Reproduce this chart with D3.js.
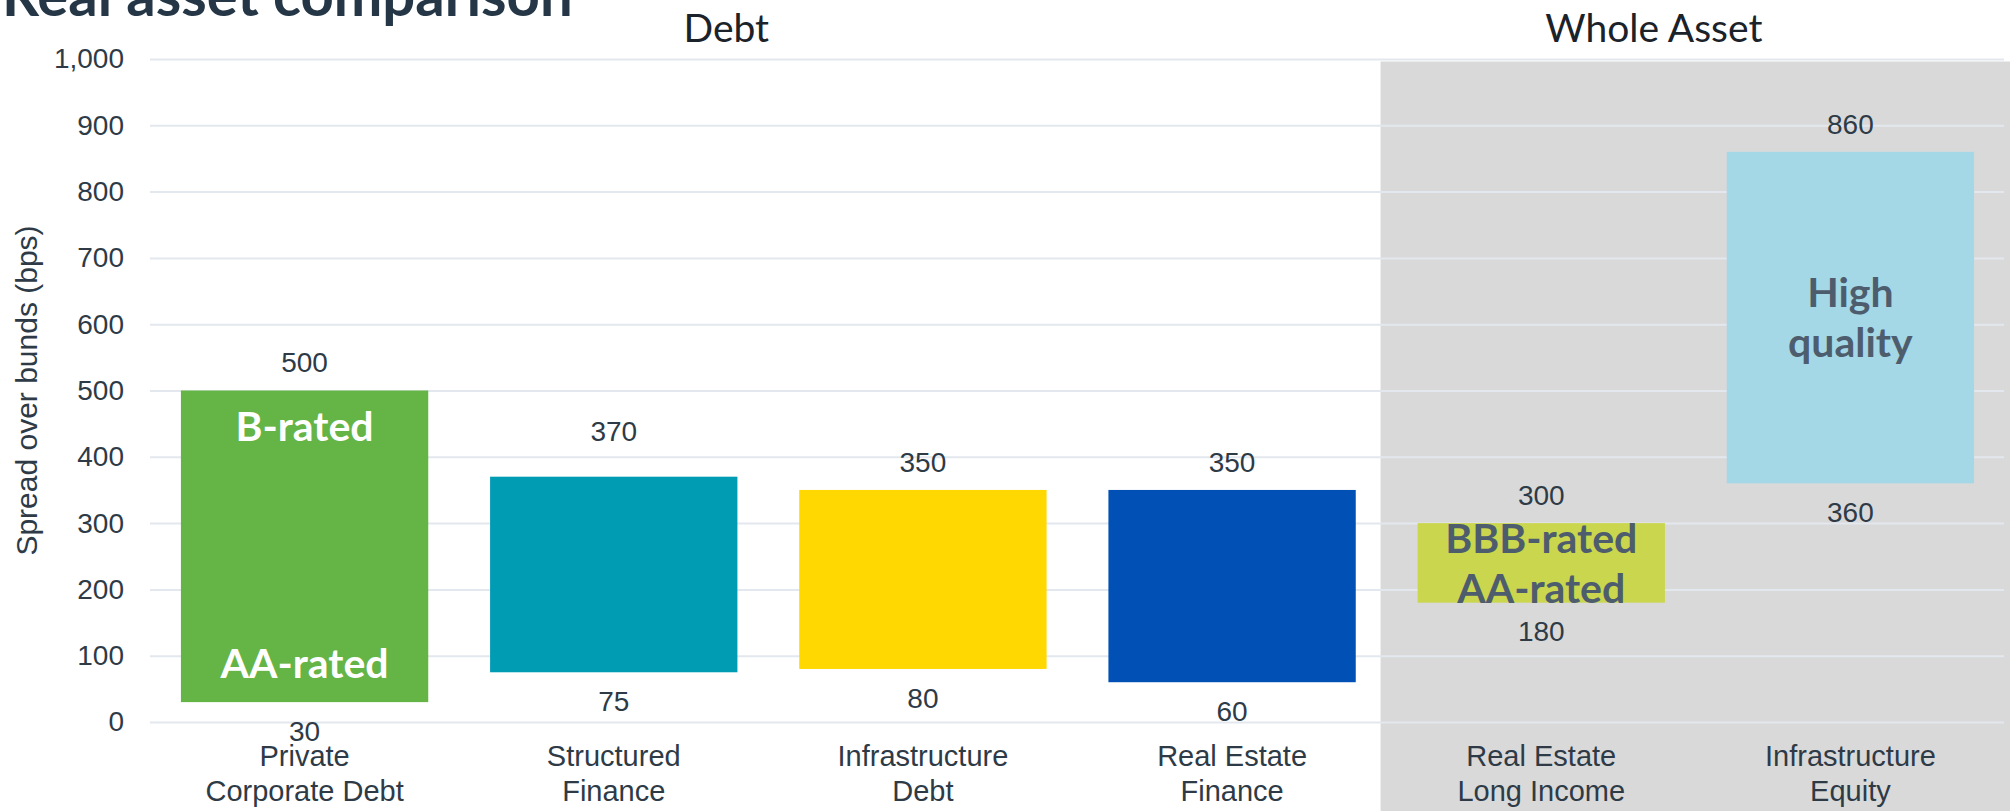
<!DOCTYPE html>
<html>
<head>
<meta charset="utf-8">
<script src="https://cdn.jsdelivr.net/npm/d3@7"></script>
<style>
  html, body { margin: 0; padding: 0; background: #ffffff; overflow: hidden; }
  svg { display: block; }
</style>
</head>
<body>
<svg id="chart" width="2010" height="811"></svg>
<script>
// ---- data ----
const categories = [
  "Private Corporate Debt", "Structured Finance", "Infrastructure Debt",
  "Real Estate Finance", "Real Estate Long Income", "Infrastructure Equity"
];
const categoryLines = [
  ["Private", "Corporate Debt"], ["Structured", "Finance"], ["Infrastructure", "Debt"],
  ["Real Estate", "Finance"], ["Real Estate", "Long Income"], ["Infrastructure", "Equity"]
];
const lowSpread  = [30, 75, 80, 60, 180, 360];
const highSpread = [500, 370, 350, 350, 300, 860];
const barColors  = ["#65b446", "#009cb4", "#fed800", "#0050b5", "#c9d64e", "#a4d8e6"];
const yTicks = [0, 100, 200, 300, 400, 500, 600, 700, 800, 900, 1000];
const groupNames = ["Debt", "Whole Asset"];
const groupMembers = [[0, 1, 2, 3], [4, 5]];
const noteCategories = [0, 0, 4, 5];
const noteLines = [["B-rated"], ["AA-rated"], ["BBB-rated", "AA-rated"], ["High", "quality"]];
const noteAnchors = ["top", "bottom", "middle", "middle"];

// ---- layout ----
const W = 2010, H = 811;
const plotLeft = 150, plotRight = 2005, plotTop = 59, plotBottom = 722;
const axisFont = "'Liberation Sans', Arial, sans-serif";
const headFont = "Lato, 'Noto Sans', sans-serif";
const textDark = "#2e3b47";

const svg = d3.select("#chart");

const x = d3.scaleBand()
  .domain(categories)
  .range([plotLeft, plotRight])
  .paddingInner(0.2)
  .paddingOuter(0.1);

const y = d3.scaleLinear().domain([0, 1000]).range([plotBottom, plotTop]);

// shaded panel behind the whole-asset categories
const panelLeft = x(categories[4]) - 37;
svg.append("rect")
  .attr("x", panelLeft)
  .attr("y", y(1000) + 2.5)
  .attr("width", W - panelLeft)
  .attr("height", H - y(1000))
  .attr("fill", "#d9d9d9");

// y axis with gridlines
const yAxis = d3.axisLeft(y)
  .tickValues(yTicks)
  .tickFormat(d3.format(","))
  .tickSizeInner(-(2004 - plotLeft))
  .tickSizeOuter(0)
  .tickPadding(26);

const gy = svg.append("g")
  .attr("transform", `translate(${plotLeft},0)`)
  .call(yAxis);
gy.select(".domain").remove();
gy.selectAll(".tick line").attr("stroke", "#e3e8ee").attr("stroke-width", 2);
gy.selectAll(".tick text")
  .attr("font-family", axisFont)
  .attr("font-size", 28)
  .attr("fill", textDark);

// y axis title
svg.append("text")
  .attr("transform", `translate(26,${(plotTop + plotBottom) / 2}) rotate(-90)`)
  .attr("text-anchor", "middle")
  .attr("dy", "0.35em")
  .attr("font-family", axisFont)
  .attr("font-size", 30)
  .attr("fill", textDark)
  .text("Spread over bunds (bps)");

// x axis (two-line category labels)
const xAxis = d3.axisBottom(x).tickSize(0).tickPadding(0);
const gx = svg.append("g")
  .attr("transform", `translate(0,${plotBottom})`)
  .call(xAxis);
gx.select(".domain").remove();
gx.selectAll(".tick text").each(function (d) {
  const t = d3.select(this);
  const lines = categoryLines[categories.indexOf(d)];
  t.text(null)
    .attr("y", 0)
    .attr("dy", null)
    .attr("font-family", axisFont)
    .attr("font-size", 29)
    .attr("fill", textDark);
  lines.forEach((ln, i) => {
    t.append("tspan").attr("x", 0).attr("y", 44 + i * 35).text(ln);
  });
});

// floating range bars
const rows = categories.map((c, i) => ({
  cat: c, lo: lowSpread[i], hi: highSpread[i], color: barColors[i]
}));

svg.append("g").selectAll("rect")
  .data(rows)
  .join("rect")
  .attr("x", d => x(d.cat))
  .attr("width", x.bandwidth())
  .attr("y", d => y(d.hi))
  .attr("height", d => y(d.lo) - y(d.hi))
  .attr("fill", d => d.color);

// value labels above and below each bar
const topLift = { "Structured Finance": 17 };
const valueGroup = svg.append("g")
  .attr("font-family", axisFont)
  .attr("font-size", 28)
  .attr("fill", textDark)
  .attr("text-anchor", "middle");

valueGroup.selectAll("text.hi")
  .data(rows)
  .join("text")
  .attr("class", "hi")
  .attr("x", d => x(d.cat) + x.bandwidth() / 2)
  .attr("y", d => y(d.hi) - 28 - (topLift[d.cat] || 0))
  .attr("dy", "0.35em")
  .text(d => d.hi);

valueGroup.selectAll("text.lo")
  .data(rows)
  .join("text")
  .attr("class", "lo")
  .attr("x", d => x(d.cat) + x.bandwidth() / 2)
  .attr("y", d => y(d.lo) + 29)
  .attr("dy", "0.35em")
  .text(d => d.lo);

// rating notes inside the bars
const noteSize = 41, noteGap = 50;
noteLines.forEach((lines, k) => {
  const i = noteCategories[k];
  const cx = x(categories[i]) + x.bandwidth() / 2;
  let cy;
  if (noteAnchors[k] === "top") cy = y(highSpread[i]) + 36;
  else if (noteAnchors[k] === "bottom") cy = y(lowSpread[i]) - 39;
  else cy = (y(highSpread[i]) + y(lowSpread[i])) / 2;
  const fill = i === 0 ? "#ffffff" : "#4e5d6d";
  const t = svg.append("text")
    .attr("text-anchor", "middle")
    .attr("font-family", headFont)
    .attr("font-weight", 700)
    .attr("font-size", noteSize)
    .attr("fill", fill);
  lines.forEach((ln, j) => {
    t.append("tspan")
      .attr("x", cx)
      .attr("y", cy + (j - (lines.length - 1) / 2) * noteGap)
      .attr("dy", "0.36em")
      .text(ln);
  });
});

// group headings
groupNames.forEach((name, g) => {
  const members = groupMembers[g];
  const x0 = x(categories[members[0]]);
  const x1 = x(categories[members[members.length - 1]]) + x.bandwidth();
  svg.append("text")
    .attr("x", (x0 + x1) / 2 - 42)
    .attr("y", 42)
    .attr("text-anchor", "middle")
    .attr("font-family", headFont)
    .attr("font-size", 39)
    .attr("fill", "#1b2229")
    .text(name);
});

// title
svg.append("text")
  .attr("x", 2)
  .attr("y", 16)
  .attr("font-family", headFont)
  .attr("font-weight", 700)
  .attr("font-size", 58)
  .attr("fill", "#253746")
  .text("Real asset comparison");
</script>
</body>
</html>
